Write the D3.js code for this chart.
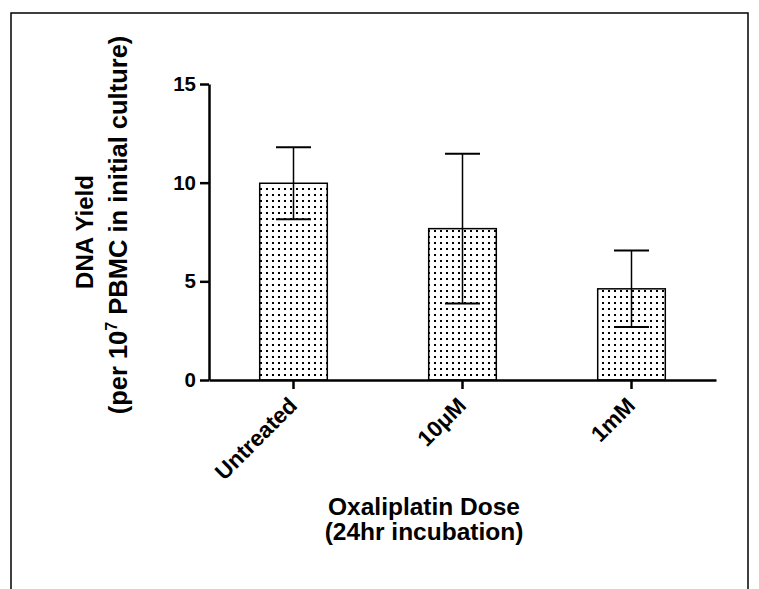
<!DOCTYPE html>
<meta charset="utf-8">
<html>
<body style="margin:0; background-color: white;">
<script src="https://d3js.org/d3.v7.min.js"></script>
<div id="chart"></div>
<script>
// data
var categories = ["Untreated", "10\u03BCM", "1mM"];
var means = [9.97, 7.67, 4.62];
var sds = [1.82, 3.79, 1.94];
var yTicks = [0, 5, 10, 15];

var width = 759, height = 589;
var font = "'Liberation Sans', Arial, Helvetica, sans-serif";

var svg = d3.select("#chart")
  .append("svg")
    .attr("width", width)
    .attr("height", height)
    .style("font-family", font);

// dotted fill for the bars
svg.append("defs")
  .append("pattern")
    .attr("id", "dots")
    .attr("patternUnits", "userSpaceOnUse")
    .attr("width", 6)
    .attr("height", 6)
  .append("rect")
    .attr("x", 2).attr("y", 2)
    .attr("width", 2).attr("height", 2)
    .attr("fill", "black");

// outer frame (bottom edge is off the page)
svg.append("rect")
  .attr("x", 11).attr("y", 13)
  .attr("width", 737).attr("height", 620)
  .attr("fill", "none")
  .attr("stroke", "black")
  .attr("stroke-width", 1.5);

var x = d3.scaleBand()
  .domain(categories)
  .range([209, 716])
  .paddingInner(0.6)
  .paddingOuter(0.3);

var y = d3.scaleLinear()
  .domain([0, 15])
  .range([380, 84]);

var data = categories.map(function(c, i) { return {cat: c, mean: means[i], sd: sds[i]}; });

// bars
svg.selectAll("rect.bar")
  .data(data)
  .enter()
  .append("rect")
    .attr("class", "bar")
    .attr("x", function(d) { return x(d.cat); })
    .attr("y", function(d) { return y(d.mean); })
    .attr("width", x.bandwidth())
    .attr("height", function(d) { return y(0) - y(d.mean); })
    .attr("fill", "url(#dots)")
    .attr("stroke", "black")
    .attr("stroke-width", 1.5);

// error bars
var capHalf = 17.5;
var err = svg.selectAll("g.err")
  .data(data)
  .enter()
  .append("g")
    .attr("class", "err")
    .attr("transform", function(d) { return "translate(" + (x(d.cat) + x.bandwidth() / 2) + ",0)"; });

err.append("line")
  .attr("x1", 0).attr("x2", 0)
  .attr("y1", function(d) { return y(d.mean + d.sd); })
  .attr("y2", function(d) { return y(d.mean - d.sd); })
  .attr("stroke", "black")
  .attr("stroke-width", 1.5);

err.append("line")
  .attr("x1", -capHalf).attr("x2", capHalf)
  .attr("y1", function(d) { return y(d.mean + d.sd); })
  .attr("y2", function(d) { return y(d.mean + d.sd); })
  .attr("stroke", "black")
  .attr("stroke-width", 2);

err.append("line")
  .attr("x1", -capHalf).attr("x2", capHalf)
  .attr("y1", function(d) { return y(d.mean - d.sd); })
  .attr("y2", function(d) { return y(d.mean - d.sd); })
  .attr("stroke", "black")
  .attr("stroke-width", 2);

// y axis
var yAxis = svg.append("g")
  .attr("transform", "translate(209,0)")
  .call(d3.axisLeft(y).tickValues(yTicks).tickSize(9).tickSizeOuter(0).tickPadding(4));
yAxis.select(".domain").attr("stroke-width", 2.5);
yAxis.selectAll(".tick line").attr("stroke-width", 2.5);
yAxis.selectAll(".tick text")
  .attr("font-family", font)
  .attr("font-weight", "bold")
  .attr("font-size", "20.5px")
  .attr("fill", "black");

// x axis
var xAxis = svg.append("g")
  .attr("transform", "translate(0,380)")
  .call(d3.axisBottom(x).tickSize(9).tickSizeOuter(0));
xAxis.select(".domain").attr("stroke-width", 2.5);
xAxis.selectAll(".tick line").attr("stroke-width", 2.5);
xAxis.selectAll(".tick text")
  .attr("font-family", font)
  .attr("font-weight", "bold")
  .attr("font-size", "22.5px")
  .attr("fill", "black")
  .attr("text-anchor", "end")
  .attr("y", 0)
  .attr("dy", 0)
  .attr("transform", "translate(5,27) rotate(-45)");

// x axis title
var xt = svg.append("text")
  .attr("text-anchor", "middle")
  .attr("font-weight", "bold")
  .attr("font-size", "24.5px");
xt.append("tspan").attr("x", 424).attr("y", 514.5).text("Oxaliplatin Dose");
xt.append("tspan").attr("x", 424).attr("y", 539.5).text("(24hr incubation)");

// y axis title
svg.append("text")
  .attr("transform", "translate(93,232) rotate(-90)")
  .attr("text-anchor", "middle")
  .attr("font-weight", "bold")
  .attr("font-size", "24px")
  .text("DNA Yield");

var yt2 = svg.append("text")
  .attr("transform", "translate(127,225) rotate(-90)")
  .attr("text-anchor", "middle")
  .attr("font-weight", "bold")
  .attr("font-size", "25.5px");
yt2.append("tspan").text("(per 10");
yt2.append("tspan").attr("font-size", "16px").attr("dy", -10).text("7");
yt2.append("tspan").attr("dy", 10).text(" PBMC in initial culture)");
</script>
</body>
</html>
